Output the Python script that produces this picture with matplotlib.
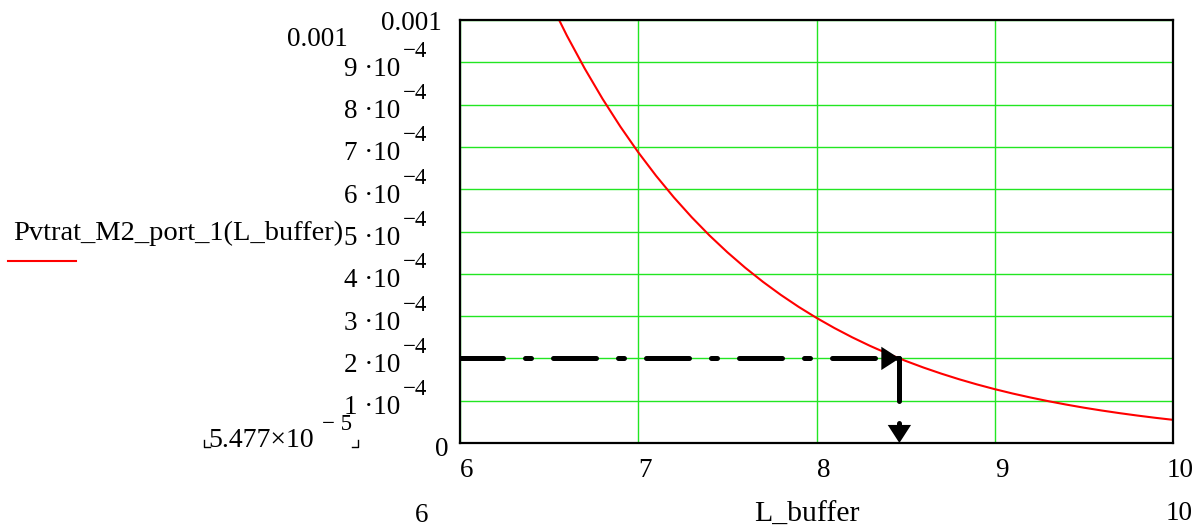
import matplotlib
matplotlib.use('Agg')
import matplotlib.pyplot as plt
from matplotlib.lines import Line2D
from matplotlib.transforms import ScaledTranslation

# values (L_buffer -> Pvtrat_M2_port_1)
l_buffer = [6.5, 6.6, 6.7, 6.8, 6.9, 7.0, 7.1, 7.2, 7.3, 7.4, 7.5, 7.6, 7.7, 7.8, 7.9, 8.0,
            8.1, 8.2, 8.3, 8.4, 8.5, 8.6, 8.7, 8.8, 8.9, 9.0, 9.1, 9.2, 9.3, 9.4, 9.5, 9.6,
            9.7, 9.8, 9.9, 10.0]
pvtrat = [1.0475e-3, 9.628e-4, 8.850e-4, 8.134e-4, 7.477e-4, 6.872e-4, 6.317e-4, 5.806e-4,
          5.337e-4, 4.905e-4, 4.509e-4, 4.144e-4, 3.809e-4, 3.501e-4, 3.218e-4, 2.958e-4,
          2.719e-4, 2.499e-4, 2.297e-4, 2.111e-4, 1.941e-4, 1.784e-4, 1.640e-4, 1.507e-4,
          1.385e-4, 1.273e-4, 1.170e-4, 1.076e-4, 9.89e-5, 9.09e-5, 8.35e-5, 7.68e-5,
          7.06e-5, 6.49e-5, 5.96e-5, 5.477e-5]

# marker read-off: level 2e-4 reached at L_buffer ~ 8.465
x_target = 8.465
y_target = 2e-4

x_ticks = [6, 7, 8, 9, 10]
x_tick_labels = ['6', '7', '8', '9', '10']
y_ticks = [0, 1e-4, 2e-4, 3e-4, 4e-4, 5e-4, 6e-4, 7e-4, 8e-4, 9e-4, 1e-3]
y_tick_labels = ['0', '1 ·10', '2 ·10', '3 ·10', '4 ·10', '5 ·10', '6 ·10', '7 ·10',
                 '8 ·10', '9 ·10', '0.001']
y_tick_exp = ['', '−4', '−4', '−4', '−4', '−4', '−4', '−4', '−4', '−4', '']

x_limits = ['6', '10']
y_limits = ['0.001', '5.477×10', '− 5']
curve_name = 'Pvtrat_M2_port_1(L_buffer)'
x_name = 'L_buffer'

plt.rcParams['font.family'] = ['Liberation Serif', 'DejaVu Serif']
plt.rcParams['font.size'] = 19.5

W, H = 1200, 528
fig = plt.figure(figsize=(W / 100, H / 100), dpi=100)
ax = fig.add_axes([460 / W, 1 - 443 / H, (1173 - 460) / W, (443 - 20) / H])


def px(dx, dy):
    return ScaledTranslation(dx / 100, dy / 100, fig.dpi_scale_trans)


ax.plot(l_buffer, pvtrat, color='red', lw=1.5, zorder=3)
ax.set_xlim(6, 10)
ax.set_ylim(0, 1e-3)

# grid
ax.set_xticks(x_ticks)
ax.set_yticks(y_ticks)
ax.grid(True, color='#22e622', lw=1.0)
ax.set_axisbelow(True)
for s in ax.spines.values():
    s.set_linewidth(1.6)
    s.set_zorder(5)

# tick labels, mathcad style
ax.tick_params(axis='both', length=0)
ax.tick_params(axis='x', pad=11)
ax.tick_params(axis='y', pad=0)
ax.set_xticklabels(x_tick_labels, ha='left')
ax.set_yticklabels(y_tick_labels)
for lab in ax.get_xticklabels():
    dx = -6 if lab.get_text() == '10' else 0
    lab.set_transform(lab.get_transform() + px(dx, 0))
for lab in ax.get_yticklabels():
    t = lab.get_text()
    if t == '0':
        dx, dy = -12, -4
    elif t == '0.001':
        dx, dy = -18, -1
    else:
        dx, dy = -60, -4
    lab.set_transform(lab.get_transform() + px(dx, dy))
for yv, e in zip(y_ticks, y_tick_exp):
    if e:
        ax.text(0, yv, e, transform=ax.get_yaxis_transform() + px(-33, 11),
                ha='right', va='center', fontsize=16.5)

# dash-dot read-off lines with arrow heads
dd = dict(color='black', lw=3.6, dashes=(8.6, 4.4, 1.2, 4.4), dash_capstyle='round',
          solid_capstyle='round', zorder=4)
ax.plot([x_ticks[0], x_target], [y_target, y_target], **dd)
ax.plot([x_target, x_target], [y_target, 0], **dd)
head = dict(arrowstyle='-|>,head_length=0.65,head_width=0.42', mutation_scale=20,
            color='black', lw=0, shrinkA=0, shrinkB=0)
ax.annotate('', xy=(x_target, y_target), xytext=(-25, 0), textcoords='offset points',
            arrowprops=head, zorder=6)
ax.annotate('', xy=(x_target, 0), xytext=(0, 25), textcoords='offset points',
            arrowprops=head, zorder=6, annotation_clip=False)

# axis limit labels and curve name (mathcad layout)
fig.text(348 / W, 1 - 40 / H, y_limits[0], ha='right', va='center')
fig.text(208 / W, 1 - 447 / H, y_limits[1], ha='left', va='baseline', fontsize=20)
fig.text(352 / W, 1 - 424 / H, y_limits[2], ha='right', va='center', fontsize=16.5)
for xs, ys in (([204, 204, 210], [440, 447, 447]), ([352, 358, 358], [447, 447, 440])):
    fig.add_artist(Line2D([x / W for x in xs], [1 - y / H for y in ys], color='black', lw=1.0))
fig.text(13 / W, 1 - 233 / H, curve_name, ha='left', va='center', fontsize=20.5)
fig.add_artist(Line2D([8 / W, 76 / W], [1 - 261 / H] * 2, color='red', lw=1.5))

fig.text(422 / W, 1 - 515 / H, x_limits[0], ha='center', va='center')
fig.text(807 / W, 1 - 515 / H, x_name, ha='center', va='center', fontsize=21.5)
fig.text(1179 / W, 1 - 514 / H, x_limits[1], ha='center', va='center')

fig.savefig('out.png', dpi=100)
